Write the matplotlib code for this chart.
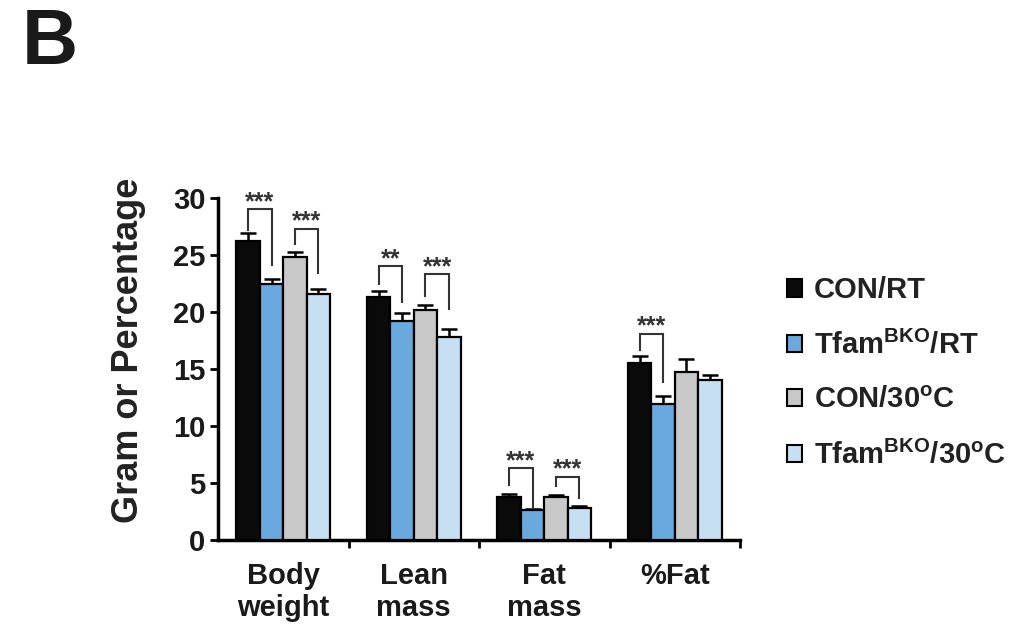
import matplotlib
matplotlib.use("Agg")
import matplotlib.pyplot as plt
from matplotlib.patches import Patch
import numpy as np

plt.rcParams['font.family'] = ['Liberation Sans', 'DejaVu Sans']
plt.rcParams['font.weight'] = 'bold'
plt.rcParams['mathtext.fontset'] = 'custom'
plt.rcParams['mathtext.rm'] = 'Liberation Sans:bold'
plt.rcParams['mathtext.bf'] = 'Liberation Sans:bold'
plt.rcParams['mathtext.it'] = 'Liberation Sans:bold'

categories = ["Body\nweight", "Lean\nmass", "Fat\nmass", "%Fat"]
series = ["CON/RT", r"Tfam$^{\mathrm{BKO}}$/RT", r"CON/30$^{\mathrm{o}}$C", r"Tfam$^{\mathrm{BKO}}$/30$^{\mathrm{o}}$C"]
colors = ["#0a0a0a", "#69a9dd", "#c8c8c8", "#c7dff3"]

con_rt = [26.2, 21.35, 3.8, 15.5]
tfam_rt = [22.45, 19.2, 2.6, 11.95]
con_30 = [24.85, 20.15, 3.75, 14.7]
tfam_30 = [21.6, 17.85, 2.8, 14.05]
values = [con_rt, tfam_rt, con_30, tfam_30]

con_rt_err = [0.7, 0.45, 0.2, 0.65]
tfam_rt_err = [0.45, 0.7, 0.1, 0.7]
con_30_err = [0.45, 0.45, 0.2, 1.2]
tfam_30_err = [0.4, 0.65, 0.15, 0.45]
errors = [con_rt_err, tfam_rt_err, con_30_err, tfam_30_err]

# significance brackets
sig_group = [0, 0, 1, 1, 2, 2, 3]
sig_bar_a = [0, 2, 0, 2, 0, 2, 0]
sig_bar_b = [1, 3, 1, 3, 1, 3, 1]
sig_top = [29.0, 27.3, 24.05, 23.3, 6.3, 5.55, 18.1]
sig_left = [27.2, 26.0, 22.5, 21.4, 4.8, 4.75, 16.7]
sig_right = [24.1, 23.4, 20.9, 20.3, 2.9, 3.65, 13.9]
sig_label = ["***", "***", "**", "***", "***", "***", "***"]

fig = plt.figure(figsize=(10.1, 6.28), dpi=100)
ax = fig.add_axes([218/1010, 1-540/628, 522/1010, 342/628])

w = 0.18
x = np.arange(len(categories))
offsets = (np.arange(4) - 1.5) * w
for i in range(4):
    ax.bar(x + offsets[i], values[i], width=w, color=colors[i], edgecolor='black',
           linewidth=1.6, zorder=3)
    ax.errorbar(x + offsets[i], values[i], yerr=[np.zeros(4), errors[i]], fmt='none',
                ecolor='black', elinewidth=1.8, capsize=6, capthick=1.8, zorder=2)

for g, a, b, top, lb, rb, lab in zip(sig_group, sig_bar_a, sig_bar_b, sig_top, sig_left, sig_right, sig_label):
    xa = g + offsets[a]
    xb = g + offsets[b]
    ax.plot([xa, xa, xb, xb], [lb, top, top, rb], color='#333333', lw=1.5, zorder=4,
            solid_joinstyle='miter')
    ax.annotate(lab, xy=((xa + xb) / 2, top), xytext=(0, 0), textcoords='offset points',
                ha='center', va='baseline', fontsize=18, fontweight='bold', color='#333333')

ax.set_xlim(-0.5, 3.5)
ax.set_ylim(0, 30)
ax.set_yticks([0, 5, 10, 15, 20, 25, 30])
ax.tick_params(axis='y', labelsize=21, width=2, length=6, pad=3, labelcolor='#1a1a1a')
ax.set_xticks([0.5, 1.5, 2.5, 3.5])
ax.set_xticklabels([])
ax.tick_params(axis='x', which='major', width=2, length=6)
ax.set_xticks(x, minor=True)
ax.set_xticklabels(categories, minor=True, fontsize=21, fontweight='bold', linespacing=1.2,
                   color='#1a1a1a')
ax.tick_params(axis='x', which='minor', length=0, pad=15.5)
for lbl in ax.get_yticklabels():
    lbl.set_fontweight('bold')

for s in ['top', 'right']:
    ax.spines[s].set_visible(False)
for s in ['left', 'bottom']:
    ax.spines[s].set_linewidth(2.5)
ax.spines['left'].set_bounds(0, 30)

fig.text(128/1010, 1-350/628, "Gram or Percentage", rotation=90, ha='center', va='center',
         fontsize=26, fontweight='bold', color='#222222')
fig.text(22/1010, 1-44/628, "B", ha='left', va='center', fontsize=56, fontweight='bold',
         color='#1a1a1a')

handles = [Patch(facecolor=c, edgecolor='black', linewidth=1.5) for c in colors]
leg = fig.legend(handles, series, loc='center left', bbox_to_anchor=(787/1010, 1-373/628),
                 frameon=False, fontsize=21, handlelength=0.53, handleheight=0.53,
                 handletextpad=0.38, labelspacing=0.9, borderpad=0, borderaxespad=0)
for t in leg.get_texts():
    t.set_fontweight('bold')
    t.set_color('#222222')

fig.savefig("out.png", dpi=100)
